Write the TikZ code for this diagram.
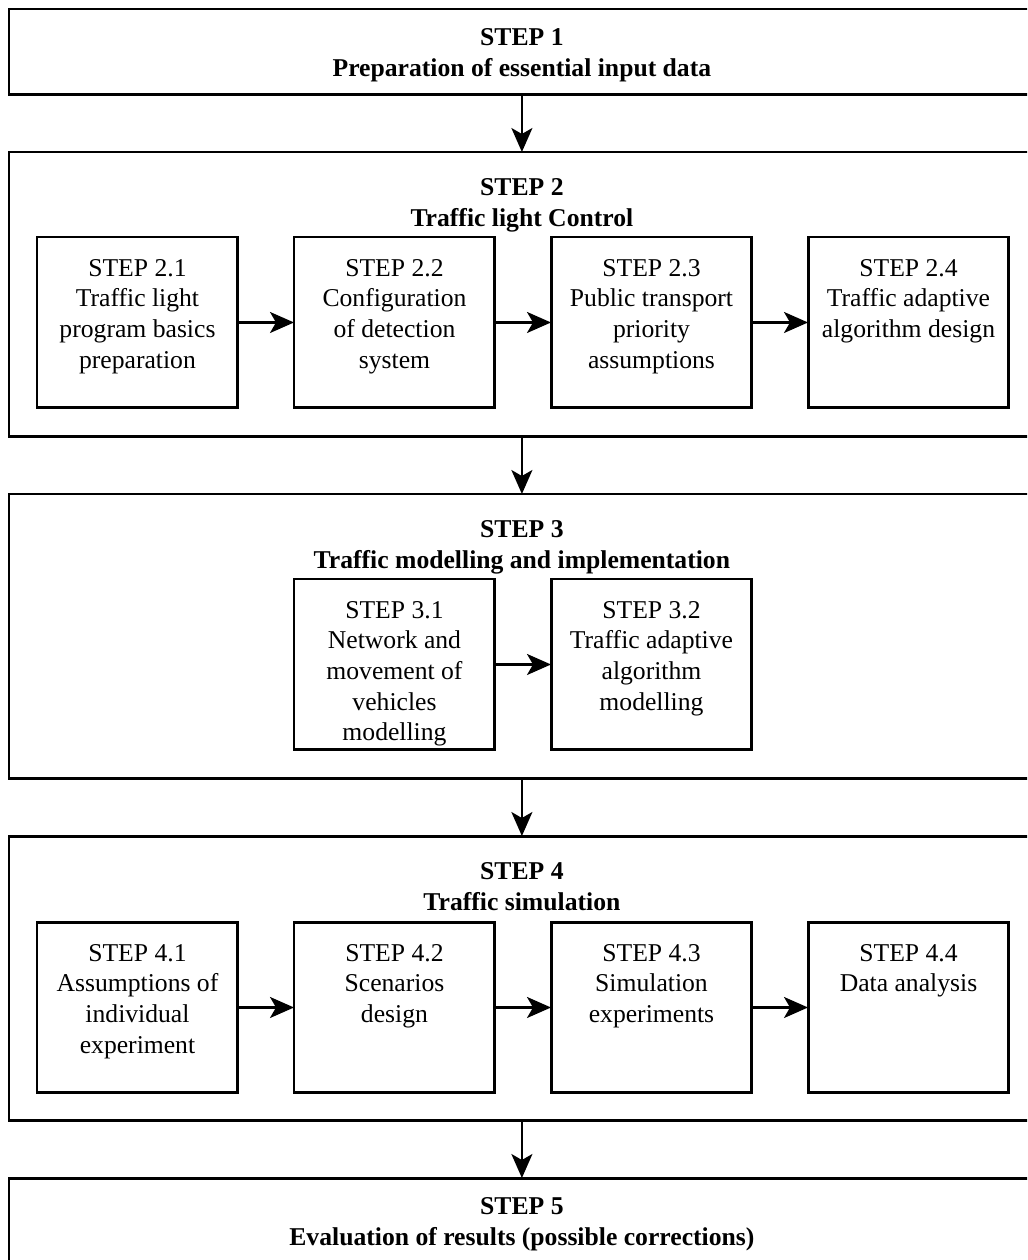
\documentclass[tikz,border=0pt]{standalone}
\usepackage{fontspec}
\setmainfont{Liberation Serif}
\usetikzlibrary{arrows.meta,positioning}

\tikzset{
  stage/.style={draw, line width=1.7pt, minimum width=20.52cm, inner sep=0pt, outer sep=0pt, anchor=north west},
  substep/.style={draw, line width=1.7pt, minimum width=4.02cm, minimum height=3.42cm, inner sep=0pt, outer sep=0pt, anchor=north west},
  stagetitle/.style={align=center, inner sep=0pt, font=\fontsize{14.6}{17.6}\selectfont\bfseries},
  subtext/.style={align=center, inner sep=0pt, anchor=north, font=\fontsize{14.6}{17.4}\selectfont},
  flow/.style={-{Stealth[length=0.48cm, width=0.42cm, inset=0.12cm]}, line width=1.3pt}
}

\begin{document}
\begin{tikzpicture}[x=0.02cm, y=-0.02cm]
\clip (0,0) rectangle (1027,1260);

% main steps
\node[stage, minimum height=1.72cm] (s1) at (9,9) {};
\node[stagetitle, yshift=-2pt] (t1) at (s1.center) {STEP 1\\Preparation of essential input data};

\node[stage, minimum height=5.7cm] (s2) at (9,152) {};
\node[stagetitle, anchor=north, below=0.52cm of s2.north] (t2) {STEP 2\\Traffic light Control};

\node[stage, minimum height=5.7cm] (s3) at (9,494) {};
\node[stagetitle, anchor=north, below=0.52cm of s3.north] (t3) {STEP 3\\Traffic modelling and implementation};

\node[stage, minimum height=5.7cm] (s4) at (9,836) {};
\node[stagetitle, anchor=north, below=0.52cm of s4.north] (t4) {STEP 4\\Traffic simulation};

\node[stage, minimum height=1.72cm] (s5) at (9,1178) {};
\node[stagetitle, yshift=-2pt] (t5) at (s5.center) {STEP 5\\Evaluation of results (possible corrections)};

% step 2
\node[substep] (b21) at (37,237) {};
\node[subtext, below=0.44cm of b21.north] {STEP 2.1\\Traffic light\\program basics\\preparation};
\node[substep] (b22) at (294,237) {};
\node[subtext, below=0.44cm of b22.north] {STEP 2.2\\Configuration\\of detection\\system};
\node[substep] (b23) at (551,237) {};
\node[subtext, below=0.44cm of b23.north] {STEP 2.3\\Public transport\\priority\\assumptions};
\node[substep] (b24) at (808,237) {};
\node[subtext, below=0.44cm of b24.north] {STEP 2.4\\Traffic adaptive\\algorithm design};

% step 3
\node[substep] (b31) at (294,579) {};
\node[subtext, below=0.44cm of b31.north] {STEP 3.1\\Network and\\movement of\\vehicles\\modelling};
\node[substep] (b32) at (551,579) {};
\node[subtext, below=0.44cm of b32.north] {STEP 3.2\\Traffic adaptive\\algorithm\\modelling};

% step 4
\node[substep] (b41) at (37,922) {};
\node[subtext, below=0.44cm of b41.north] {STEP 4.1\\Assumptions of\\individual\\experiment};
\node[substep] (b42) at (294,922) {};
\node[subtext, below=0.44cm of b42.north] {STEP 4.2\\Scenarios\\design};
\node[substep] (b43) at (551,922) {};
\node[subtext, below=0.44cm of b43.north] {STEP 4.3\\Simulation\\experiments};
\node[substep] (b44) at (808,922) {};
\node[subtext, below=0.44cm of b44.north] {STEP 4.4\\Data analysis};

% connectors
\draw[flow] (s1.south) -- (s2.north);
\draw[flow] (s2.south) -- (s3.north);
\draw[flow] (s3.south) -- (s4.north);
\draw[flow] (s4.south) -- (s5.north);

\draw[flow] (b21) -- (b22);
\draw[flow] (b22) -- (b23);
\draw[flow] (b23) -- (b24);
\draw[flow] (b31) -- (b32);
\draw[flow] (b41) -- (b42);
\draw[flow] (b42) -- (b43);
\draw[flow] (b43) -- (b44);

\end{tikzpicture}
\end{document}
